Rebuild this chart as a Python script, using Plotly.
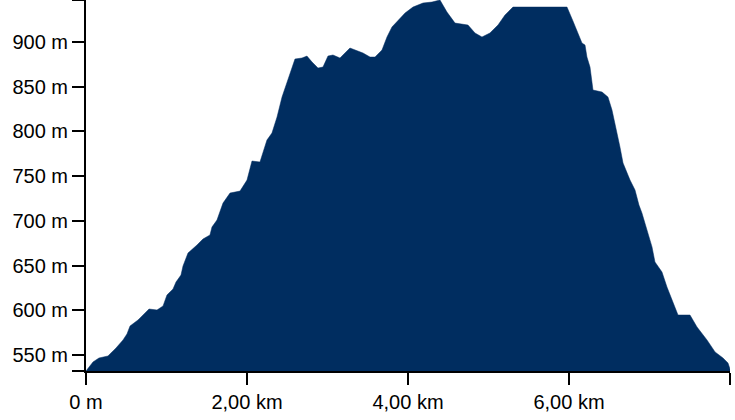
import plotly.graph_objects as go

# distance along route (m)
distance_m = [0, 87, 161, 273, 373, 460, 509, 547, 646, 720, 783, 882, 957, 1006, 1081, 1118,
              1180, 1205, 1267, 1379, 1453, 1540, 1565, 1627, 1665, 1702, 1789, 1913, 2000, 2062,
              2161, 2199, 2248, 2310, 2373, 2435, 2497, 2534, 2596, 2683, 2745, 2808, 2882, 2944,
              3006, 3068, 3155, 3279, 3342, 3441, 3528, 3590, 3677, 3739, 3801, 3876, 3963, 4062,
              4186, 4298, 4397, 4484, 4584, 4745, 4832, 4919, 5018, 5118, 5205, 5304, 5428, 5975,
              6049, 6112, 6161, 6199, 6223, 6261, 6298, 6410, 6484, 6534, 6571, 6633, 6671, 6758,
              6820, 6869, 6906, 6969, 7031, 7068, 7155, 7217, 7279, 7354, 7503, 7590, 7714, 7814,
              7913, 7975, 8000]
# elevation (m)
elevation_m = [532.1, 542.2, 546.6, 548.9, 557.8, 566.8, 573.5, 582.4, 589.1, 595.9, 601.4, 600.3,
               604.8, 617.1, 623.8, 631.6, 639.4, 649.5, 664.0, 673.0, 679.7, 684.2, 693.1, 700.9,
               709.9, 719.9, 731.1, 733.3, 745.6, 766.9, 765.8, 777.0, 790.4, 798.2, 816.1, 838.5,
               854.2, 865.3, 881.0, 882.1, 884.3, 877.6, 870.9, 872.0, 884.3, 885.5, 882.1, 893.3,
               891.1, 887.7, 883.2, 883.2, 891.1, 905.6, 916.8, 923.5, 932.4, 939.1, 943.6, 944.7,
               947.0, 933.5, 921.2, 919.0, 910.1, 905.6, 910.1, 919.0, 930.2, 939.1, 939.1, 939.1,
               923.5, 910.1, 898.9, 896.6, 883.2, 872.0, 846.3, 844.1, 838.5, 824.0, 809.5, 782.6,
               764.7, 745.6, 734.5, 717.7, 708.8, 690.0, 670.9, 654.0, 642.8, 626.0, 611.5, 594.7,
               594.7, 581.3, 566.8, 553.4, 546.6, 541.0, 534.4]

x_tick_vals = [0, 2000, 4000, 6000, 8000]
x_tick_text = ["0 m", "2,00 km", "4,00 km", "6,00 km", ""]
y_tick_vals = [550, 600, 650, 700, 750, 800, 850, 900]
y_tick_text = ["550 m", "600 m", "650 m", "700 m", "750 m", "800 m", "850 m", "900 m"]

NAVY = "#002d60"
ymin, ymax = min(elevation_m), max(elevation_m)

fig = go.Figure(go.Scatter(
    x=distance_m, y=elevation_m, mode="lines", fill="tozeroy",
    line=dict(color=NAVY, width=0.5), fillcolor=NAVY, hoverinfo="skip",
))

fig.update_layout(
    width=735, height=420,
    margin=dict(l=86, r=5, t=0, b=49),
    paper_bgcolor="white", plot_bgcolor="white",
    showlegend=False,
    font=dict(family="Liberation Sans, Arial, sans-serif", size=20, color="black"),
)
fig.update_xaxes(
    range=[0, 8000], tickvals=x_tick_vals, ticktext=x_tick_text,
    showline=True, linecolor="black", linewidth=2,
    ticks="outside", ticklen=12, tickwidth=2, tickcolor="black",
    showgrid=False, zeroline=False, fixedrange=True,
)
fig.update_yaxes(
    range=[ymin, ymax], tickvals=y_tick_vals + [ymin, ymax], ticktext=y_tick_text + ["", ""],
    showline=True, linecolor="black", linewidth=2,
    ticks="outside", ticklen=12, tickwidth=2, tickcolor="black",
    showgrid=False, zeroline=False, fixedrange=True,
)

fig.write_html(
    "out.html",
    config={"displayModeBar": False},
    post_script="document.body.style.margin='0px';document.body.style.overflow='hidden';",
)
